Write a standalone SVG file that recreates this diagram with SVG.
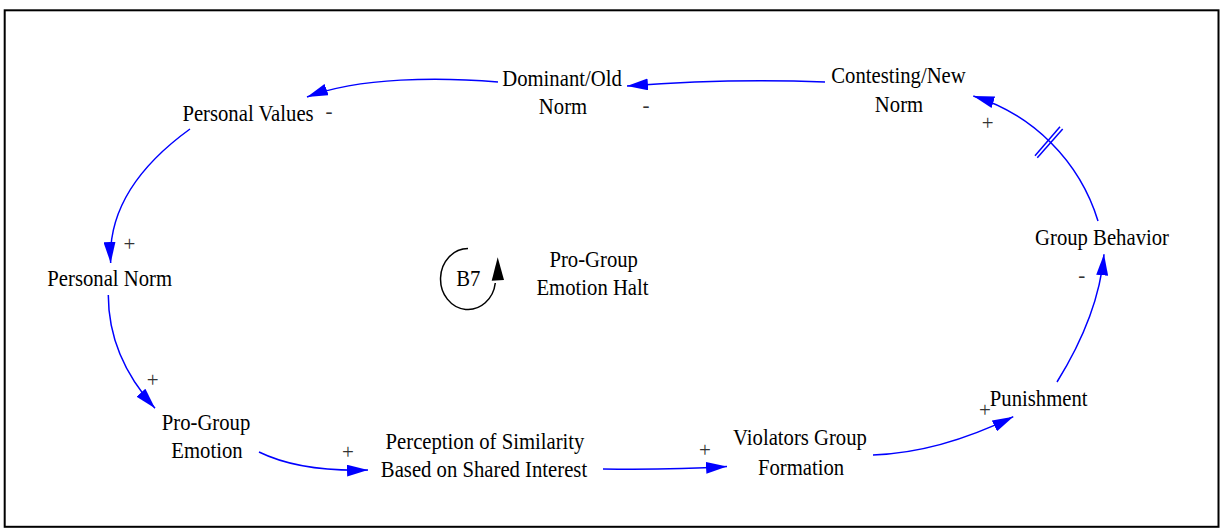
<svg xmlns="http://www.w3.org/2000/svg" width="1225" height="529" viewBox="0 0 1225 529">
<defs>
<style>
.lbl{font-family:'Liberation Serif','Times New Roman',serif;font-size:23px;fill:#000;text-anchor:middle}
.pol{font-family:'Liberation Serif','Times New Roman',serif;font-size:21px;fill:#333;text-anchor:middle}
.lnk{fill:none;stroke:#0000FF;stroke-width:1.5;marker-end:url(#ah)}
.dly{stroke:#0000FF;stroke-width:1.5}
</style>
<marker id="ah" markerUnits="userSpaceOnUse" markerWidth="21" markerHeight="12" viewBox="0 0 21 12" refX="21" refY="6" orient="auto">
<path d="M0,0 L21,6 L0,12 z" fill="#0000FF"/>
</marker>
</defs>
<rect x="0" y="0" width="1225" height="529" fill="#fff"/>
<rect x="4.7" y="10.3" width="1213.8" height="516.5" fill="none" stroke="#000" stroke-width="2"/>

<g id="connectors">
<path class="lnk" d="M825,82 Q730,78 627,86"/>
<path class="lnk" d="M498,82 C440,77 360,77 307,97"/>
<path class="lnk" d="M190,129 Q106.5,189.5 110.7,263"/>
<path class="lnk" d="M108.3,295 Q108.3,356.6 155,408.3"/>
<path class="lnk" d="M259,452 Q300,472 368,470"/>
<path class="lnk" d="M603,469 Q670,470 727,466.6"/>
<path class="lnk" d="M873,455 Q938.7,453 1013.3,416.7"/>
<path class="lnk" d="M1057,382 Q1098.7,315 1104,254.3"/>
<path class="lnk" d="M1098,221 A189,189 0 0 0 973.3,96"/>
<line class="dly" x1="1035" y1="155.7" x2="1060" y2="126.7"/>
<line class="dly" x1="1037.3" y1="157.7" x2="1062.7" y2="129"/>
<text class="pol" x="646" y="112">-</text>
<text class="pol" x="329" y="118">-</text>
<text class="pol" x="129.3" y="250.5">+</text>
<text class="pol" x="152.7" y="387">+</text>
<text class="pol" x="348" y="459">+</text>
<text class="pol" x="705" y="457">+</text>
<text class="pol" x="985" y="417">+</text>
<text class="pol" x="1081.7" y="282">-</text>
<text class="pol" x="987.7" y="130">+</text>
</g>

<g id="node-contesting"><text class="lbl" transform="translate(898.5,83) scale(0.9,1)">Contesting/New</text><text class="lbl" transform="translate(899,112) scale(0.9,1)">Norm</text></g>
<g id="node-dominant"><text class="lbl" transform="translate(562,86) scale(0.9,1)">Dominant/Old</text><text class="lbl" transform="translate(563,114) scale(0.9,1)">Norm</text></g>
<g id="node-personal-values"><text class="lbl" transform="translate(248,120.7) scale(0.9,1)">Personal Values</text></g>
<g id="node-personal-norm"><text class="lbl" transform="translate(109.7,286) scale(0.9,1)">Personal Norm</text></g>
<g id="node-pro-group-emotion"><text class="lbl" transform="translate(206,430) scale(0.9,1)">Pro-Group</text><text class="lbl" transform="translate(207,458.3) scale(0.9,1)">Emotion</text></g>
<g id="node-perception"><text class="lbl" transform="translate(485,448.6) scale(0.9,1)">Perception of Similarity</text><text class="lbl" transform="translate(484,476.6) scale(0.9,1)">Based on Shared Interest</text></g>
<g id="node-violators"><text class="lbl" transform="translate(800,445) scale(0.9,1)">Violators Group</text><text class="lbl" transform="translate(801,474.6) scale(0.9,1)">Formation</text></g>
<g id="node-punishment"><text class="lbl" transform="translate(1038.7,406) scale(0.9,1)">Punishment</text></g>
<g id="node-group-behavior"><text class="lbl" transform="translate(1102,245) scale(0.9,1)">Group Behavior</text></g>

<g id="loop-b7">
<path d="M468,248.5 A27.5,30.5 0 1 0 495.3,283" fill="none" stroke="#000" stroke-width="1.5"/>
<polygon points="497.7,257.3 491.7,280.7 504,280" fill="#000"/>
<text class="lbl" transform="translate(468.3,285.5) scale(0.9,1)">B7</text>
<text class="lbl" transform="translate(593.7,266.7) scale(0.9,1)">Pro-Group</text>
<text class="lbl" transform="translate(592.5,295) scale(0.9,1)">Emotion Halt</text>
</g>
</svg>
